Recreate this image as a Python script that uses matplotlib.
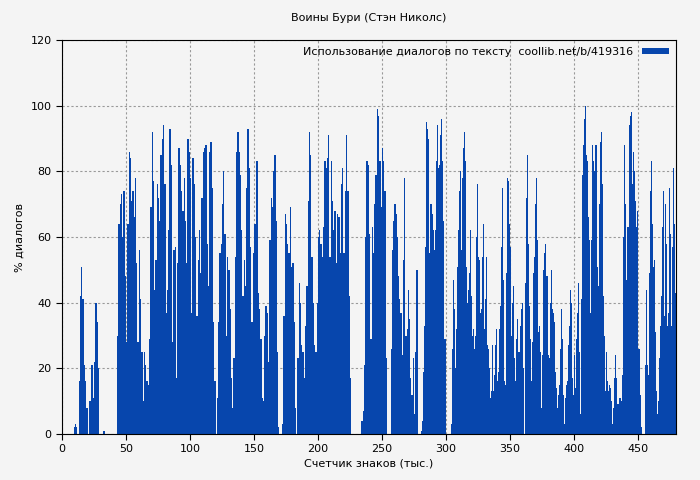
import numpy as np
import matplotlib
matplotlib.use("Agg")
import matplotlib.pyplot as plt

# segments: (x_start, x_end, values) in thousands of characters
s1 = [0]*9 + [2,3,2,0,16,42,51,41,21,16,8,0,10,10,21,11,22,40,34,20,0,0,0,1,1] + [0]*9
s2 = [30,64,70,73,60,74,48,28,64,86,84,71,74,66,78,52,28,56,41,25,10,25,21,16,15,29,
      69,92,77,44,53,76,72,65,85,90,94,76,37,44,62,93,82,28,56,57,17,52,87,82,74,68,78,
      65,52,90,86,78,37,84,76,60,36,53,62,49,72,86,87,88,58,45,86,89,75,34,16,0]
s3 = [11,34,55,58,70,80,61,30,54,50,38,17,8,23,54,86,92,86,79,62,42,
      53,45,75,93,81,57,34,55,64,64,83,43,38,29,11,10,30,39,37,22,
      59,72,69,80,85,65,25,2,0,0,3,36,67,64,58,55,69,51,52,34,
      8,0,23,46,40,27,25,17,33,45,71,92,85,54,40,27,25,40,60,62,
      58,54,63,83,81,84,91,54,83,71,62,68,52,67,66,55,76,81,55,74,91,74,42,17]
s5 = [4,7,21,60,83,82,61,29,63,55,70,79,99,97,83,69,87,83,74,23]
s6a = [26,56,65,70,67,60,48,41,37,24,53,78,30,32,44,35,17,12,23,6,25,50]
s6b = [1,4,19,33,57,95,93,90,55,70,67,62,56,62,83,94,81,82,91,96,83,65,29]
s7 = [3,26,47,38,20,32,51,62,74,80,56,78,87,92,83,51,40,44,49,62,42,30,32,26,30,60,
      76,54,53,37,38,54,64,32,41,54,27,26,20,11,13,27,13,18,27,32,16,19,32,39,57,75,
      47,16,15,49,78,77,64,57,30,40,45,23,16,29,35,25,25,33,38,40,20]
s8 = [46,72,85,58,39,29,16,28,49,54,70,78,59,31,33,25,8,24,50,55,58,48,48,24,23,40,
      50,38,37,34,19,14,8,12,15,26,38,29,12,3,11,15,16,27,33,44,40,17,12,24,14,29,37,
      46,25,6,41,79,88,96,100,85,83,66,59,37,59,88,83,80,88,88,51,45,70,89,92,76,42,30,
      13,25,16,13,15,14,10,3,8,17,24,17,9,9,11,11,10,18,60,88,70,47,63,63,94,97,98,76,
      86,80,71,63,68,26,26,12,2]
s9 = [21,44,21,18,49,74,83,64,51,53,31,13,6,10,23,33,42,63,74,36,70,58,33,37,75,61,
      33,57,81,64,43,37]
segments = [(0, 42, s1), (43, 120, s2), (121, 225, s3), (234, 253, s5),
            (257, 277, s6a), (280.5, 299, s6b), (304, 360.5, s7),
            (361.7, 452.3, s8), (455.5, 479.7, s9)]

title = "Воины Бури (Стэн Николс)"
xlabel = "Счетчик знаков (тыс.)"
ylabel = "% диалогов"
legend_label = "Использование диалогов по тексту  coollib.net/b/419316"
color = "#0746ad"

fig = plt.figure(figsize=(7, 4.8), dpi=100, facecolor="#f4f4f4")
ax = fig.add_axes([62/700, 46/480, 614/700, 394/480])
ax.set_facecolor("#f4f4f4")
first = True
for a, b, vals in segments:
    x = np.linspace(a, b, len(vals))
    w = (b - a) / (len(vals) - 1)
    ax.bar(x, vals, width=w, color=color, linewidth=0, align="edge",
           label=legend_label if first else None)
    first = False
ax.set_xlim(0, 480)
ax.set_ylim(0, 120)
ax.set_xticks(range(0, 451, 50))
ax.set_yticks(range(0, 121, 20))
ax.tick_params(labelsize=8, length=4)
ax.grid(True, color="#999999", linestyle=(0, (2, 2)), linewidth=0.8)
ax.set_axisbelow(True)
ax.set_title(title, fontsize=8, pad=14)
ax.set_xlabel(xlabel, fontsize=8, labelpad=3)
ax.set_ylabel(ylabel, fontsize=8)
ax.legend(loc="upper right", frameon=False, fontsize=8, markerfirst=False,
          handlelength=2.5, handleheight=0.5, borderaxespad=0.2)
fig.savefig("out.png", dpi=100, facecolor=fig.get_facecolor())
